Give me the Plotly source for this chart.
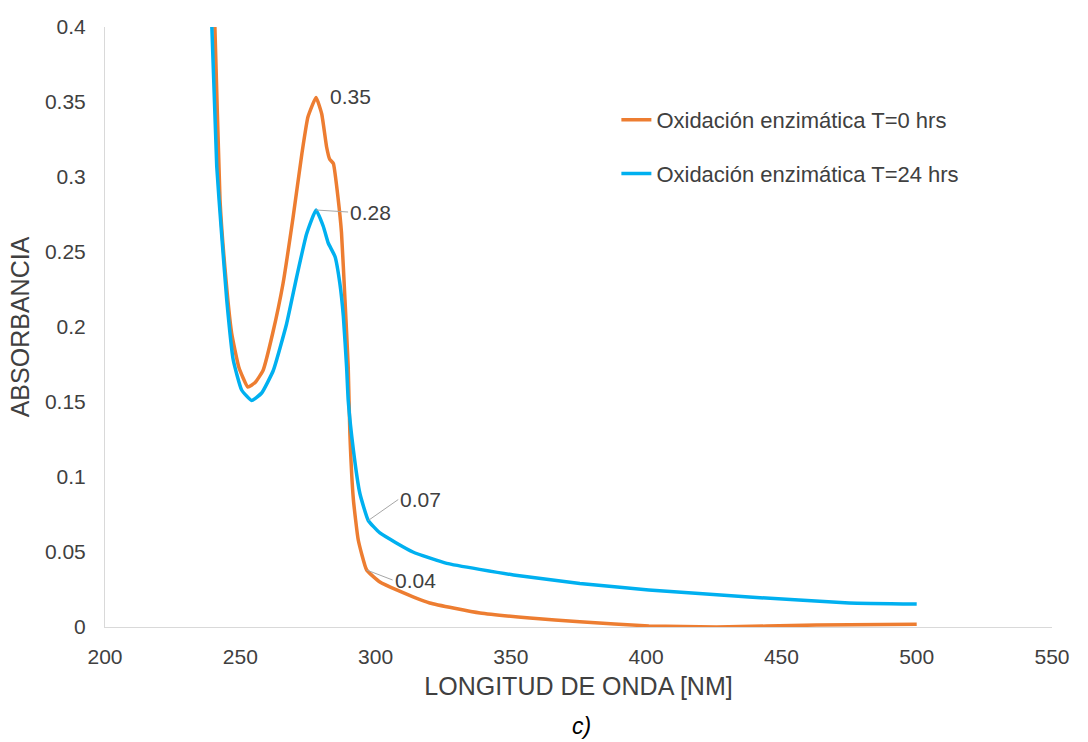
import plotly.graph_objects as go

# UV-Vis absorbance spectra, enzymatic oxidation at 0 h and 24 h
nm_t0 = [240.3, 240.6, 242.5, 244.3, 246.8, 249.5, 252.8, 255.5, 258.4, 262.0,
         265.8, 269.5, 272.8, 275.0, 278.0, 280.1, 281.9, 283.0, 284.4, 286.2,
         287.4, 288.7, 289.9, 290.5, 291.8, 293.6, 296.7, 301.6, 307.8, 320.0,
         338.6, 357.0, 375.5, 401.0, 426.0, 463.0, 500.0]
abs_t0 = [0.410, 0.401, 0.285, 0.240, 0.196, 0.173, 0.160, 0.163, 0.171, 0.196,
          0.229, 0.273, 0.316, 0.340, 0.353, 0.342, 0.320, 0.312, 0.309, 0.285,
          0.263, 0.218, 0.173, 0.129, 0.085, 0.058, 0.038, 0.030, 0.0247, 0.016,
          0.0093, 0.006, 0.0035, 0.0007, 0.0, 0.0013, 0.0018]

nm_t24 = [239.3, 241.3, 243.1, 245.0, 247.4, 250.5, 254.2, 257.9, 262.2, 267.1,
          270.8, 274.5, 278.0, 280.7, 282.5, 285.0, 286.8, 288.1, 289.3, 289.9,
          291.8, 294.2, 297.3, 301.6, 313.8, 326.3, 351.0, 375.5, 401.0, 438.0,
          475.0, 500.0]
abs_t24 = [0.410, 0.307, 0.262, 0.218, 0.178, 0.158, 0.151, 0.156, 0.171, 0.202,
           0.233, 0.262, 0.278, 0.267, 0.256, 0.247, 0.229, 0.207, 0.173, 0.151,
           0.118, 0.089, 0.071, 0.0627, 0.050, 0.0424, 0.0347, 0.029, 0.0247, 0.020,
           0.016, 0.0153]

series_names = ["Oxidación enzimática T=0 hrs", "Oxidación enzimática T=24 hrs"]
x_ticks = [200, 250, 300, 350, 400, 450, 500, 550]
y_ticks = [0, 0.05, 0.1, 0.15, 0.2, 0.25, 0.3, 0.35, 0.4]
y_tick_text = ["0", "0.05", "0.1", "0.15", "0.2", "0.25", "0.3", "0.35", "0.4"]

# points carrying a data label: (series, index in arrays, arrow offset x, y)
labelled = [(0, 14, None, None), (1, 12, 32, 2), (1, 22, 30, -21), (0, 26, 26, 10)]

ORANGE = "#ED7D31"
BLUE = "#00B0F0"
TEXT = "#404040"
FONT = "Arial, Liberation Sans, sans-serif"

fig = go.Figure()
for name, xs, ys, color, grp in [(series_names[0], nm_t0, abs_t0, ORANGE, "a"),
                                 (series_names[1], nm_t24, abs_t24, BLUE, "b")]:
    fig.add_trace(go.Scatter(x=xs, y=ys, mode="lines", name=name, legendgroup=grp,
                             line=dict(color=color, width=3.5, shape="spline", smoothing=0.4)))

data = [(nm_t0, abs_t0), (nm_t24, abs_t24)]
for s, i, ax, ay in labelled:
    xv, yv = data[s][0][i], data[s][1][i]
    if ax is None:
        fig.add_annotation(x=xv, y=yv, text=f"{yv:.2f}", showarrow=False,
                           xanchor="left", yanchor="middle", xshift=12, yshift=1,
                           font=dict(size=21, color=TEXT, family=FONT))
    else:
        fig.add_annotation(x=xv, y=yv, text=f"{yv:.2f}", showarrow=True,
                           arrowhead=0, arrowwidth=1, arrowcolor="#A6A6A6",
                           ax=ax, ay=ay, xanchor="left", yanchor="middle",
                           font=dict(size=21, color=TEXT, family=FONT))

fig.add_annotation(text="<i>c)</i>", xref="paper", yref="paper", x=0.503, y=-0.165,
                   xanchor="center", yanchor="middle", showarrow=False,
                   font=dict(size=23, color="#000000", family=FONT))

fig.update_layout(
    width=1088, height=742,
    margin=dict(l=105, r=36, t=27, b=115),
    paper_bgcolor="white", plot_bgcolor="white",
    font=dict(family=FONT, color=TEXT, size=21),
    showlegend=True,
    legend=dict(x=0.54, y=0.88, xanchor="left", yanchor="top",
                font=dict(size=22, color=TEXT, family=FONT),
                tracegroupgap=22, bgcolor="rgba(0,0,0,0)"),
    xaxis=dict(range=[200, 550], tickvals=x_ticks, showgrid=False, zeroline=False,
               showline=True, linecolor="#D9D9D9", linewidth=1, ticks="",
               ticklabelstandoff=11, tickfont=dict(size=21, color=TEXT),
               title=dict(text="LONGITUD DE ONDA [NM]", standoff=10,
                          font=dict(size=25, color=TEXT))),
    yaxis=dict(range=[0, 0.4], tickvals=y_ticks, ticktext=y_tick_text, showgrid=False,
               zeroline=False, showline=True, linecolor="#D9D9D9", linewidth=1,
               ticks="", ticklabelstandoff=14, tickfont=dict(size=21, color=TEXT),
               title=dict(text="ABSORBANCIA", standoff=8,
                          font=dict(size=25, color=TEXT))),
)

fig.write_html("out.html")
